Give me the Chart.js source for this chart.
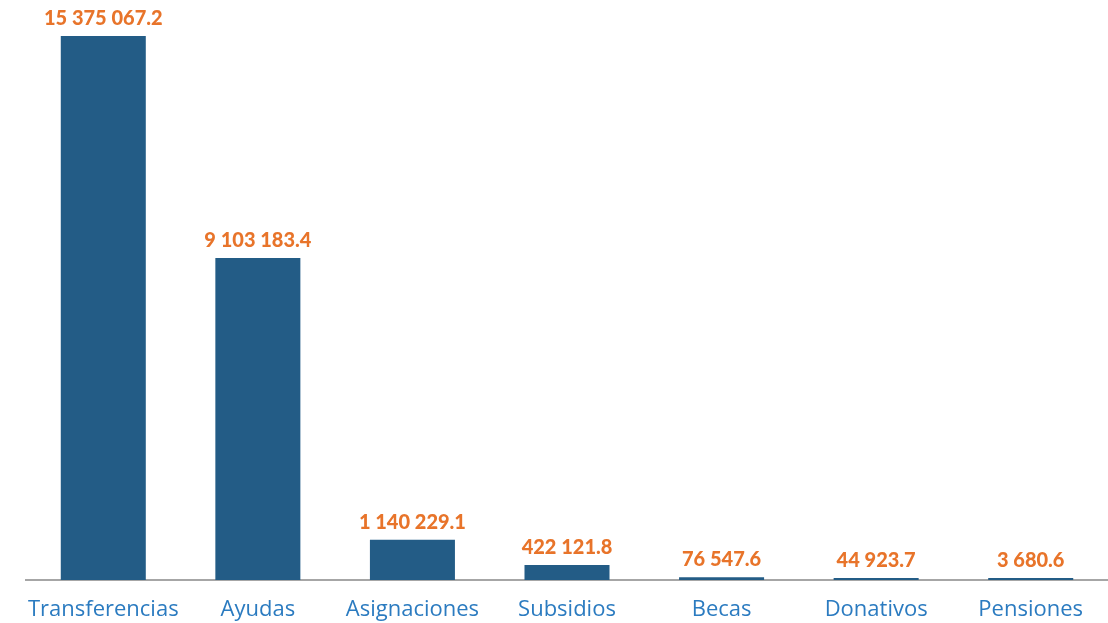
<!DOCTYPE html>
<html>
<head>
<meta charset="utf-8">
<script src="https://cdn.jsdelivr.net/npm/chart.js@4.4.1/dist/chart.umd.min.js"></script>
<style>
  html, body { margin: 0; padding: 0; background: #fff; }
  #wrap { width: 1108px; height: 623px; }
</style>
</head>
<body>
<div id="wrap"><canvas id="chart"></canvas></div>
<script>
// datos
const categories = ["Transferencias", "Ayudas", "Asignaciones", "Subsidios", "Becas", "Donativos", "Pensiones"];
const values = [15375067.2, 9103183.4, 1140229.1, 422121.8, 76547.6, 44923.7, 3680.6];
const valueLabels = ["15 375 067.2", "9 103 183.4", "1 140 229.1", "422 121.8", "76 547.6", "44 923.7", "3 680.6"];

// etiquetas encima de las barras
const barLabels = {
  id: "barLabels",
  afterDatasetsDraw(chart) {
    const ctx = chart.ctx;
    const meta = chart.getDatasetMeta(0);
    ctx.save();
    ctx.fillStyle = "#E8742A";
    ctx.font = "900 20px Lato";
    ctx.textAlign = "center";
    ctx.textBaseline = "alphabetic";
    meta.data.forEach((bar, i) => {
      ctx.fillText(valueLabels[i], bar.x, bar.y - 11);
    });
    ctx.restore();
  }
};

new Chart(document.getElementById("chart").getContext("2d"), {
  type: "bar",
  data: {
    labels: categories,
    datasets: [{
      data: values,
      backgroundColor: "#235C86",
      barPercentage: 0.55,
      categoryPercentage: 1,
      minBarLength: 2
    }]
  },
  options: {
    responsive: true,
    maintainAspectRatio: false,
    animation: false,
    layout: { padding: { top: 36, left: 26, right: 0, bottom: -17 } },
    plugins: { legend: { display: false }, tooltip: { enabled: false } },
    scales: {
      x: {
        grid: { display: false, drawTicks: false },
        border: { display: true, color: "#A6A6A6", width: 2 },
        ticks: {
          color: "#2B7BC0",
          font: { family: "Open Sans", size: 22, lineHeight: 1 },
          padding: 19,
          maxRotation: 0,
          minRotation: 0,
          autoSkip: false
        }
      },
      y: {
        display: false,
        beginAtZero: true,
        min: 0,
        max: values[0]
      }
    }
  },
  plugins: [barLabels]
});
</script>
</body>
</html>
